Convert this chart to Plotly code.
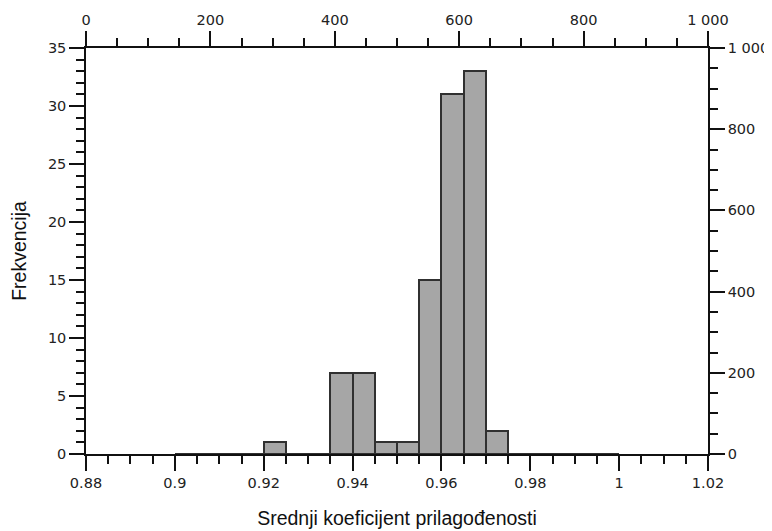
import numpy as np
import plotly.graph_objects as go

# histogram bins (left edges, width 0.005) and counts
bin_left = [0.900, 0.905, 0.910, 0.915, 0.920, 0.925, 0.930, 0.935, 0.940, 0.945,
            0.950, 0.955, 0.960, 0.965, 0.970, 0.975, 0.980, 0.985, 0.990, 0.995]
counts = [0, 0, 0, 0, 1, 0, 0, 7, 7, 1,
          1, 15, 31, 33, 2, 0, 0, 0, 0, 0]
bin_width = 0.005

x_title = "Srednji koeficijent prilagođenosti"
y_title = "Frekvencija"

tick_font = dict(family="DejaVu Sans", size=14.5, color="#222")
title_font = dict(family="Liberation Sans, Arial", size=19.5, color="#111")

centers = [b + bin_width / 2 for b in bin_left]

fig = go.Figure()
fig.add_trace(go.Bar(
    x=centers, y=counts, width=[bin_width] * len(centers),
    marker=dict(color="#a6a6a6", line=dict(color="#303030", width=2)),
    showlegend=False, hoverinfo="x+y",
))
# empty trace so the secondary (top / right) axes get drawn
fig.add_trace(go.Scatter(x=[], y=[], xaxis="x2", yaxis="y2",
                         showlegend=False, hoverinfo="skip"))

axis_common = dict(showgrid=False, zeroline=False, showline=True, linecolor="#111",
                   linewidth=1.5, ticks="outside", ticklen=15, tickwidth=1.5,
                   tickcolor="#111", tickfont=tick_font, fixedrange=True,
                   automargin=False)

fig.update_layout(
    template="none",
    width=772, height=531,
    margin=dict(l=78, r=72, t=40, b=85),
    paper_bgcolor="white", plot_bgcolor="white",
    separators=". ",
    bargap=0,
    xaxis=dict(range=[0.88, 1.02], tickmode="linear", tick0=0.88, dtick=0.02,
               minor=dict(dtick=0.005, tick0=0.88, ticks="outside", ticklen=8,
                          tickwidth=1.5, tickcolor="#111", showgrid=False),
               title=dict(text=x_title, font=title_font, standoff=21),
               **axis_common),
    yaxis=dict(range=[0, 35], tickmode="linear", tick0=0, dtick=5,
               minor=dict(dtick=1, tick0=0, ticks="outside", ticklen=8,
                          tickwidth=1.5, tickcolor="#111", showgrid=False),
               title=dict(text=y_title, font=title_font, standoff=19),
               **axis_common),
    xaxis2=dict(range=[0, 1000], overlaying="x", side="top", anchor="y2",
                tickmode="linear", tick0=0, dtick=200, separatethousands=True,
                minor=dict(dtick=50, tick0=0, ticks="outside", ticklen=8,
                           tickwidth=1.5, tickcolor="#111", showgrid=False),
                **axis_common),
    yaxis2=dict(range=[0, 1000], overlaying="y", side="right", anchor="x2",
                tickmode="linear", tick0=0, dtick=200, separatethousands=True,
                minor=dict(dtick=50, tick0=0, ticks="outside", ticklen=8,
                           tickwidth=1.5, tickcolor="#111", showgrid=False),
                **axis_common),
)

fig.write_html("out.html")
